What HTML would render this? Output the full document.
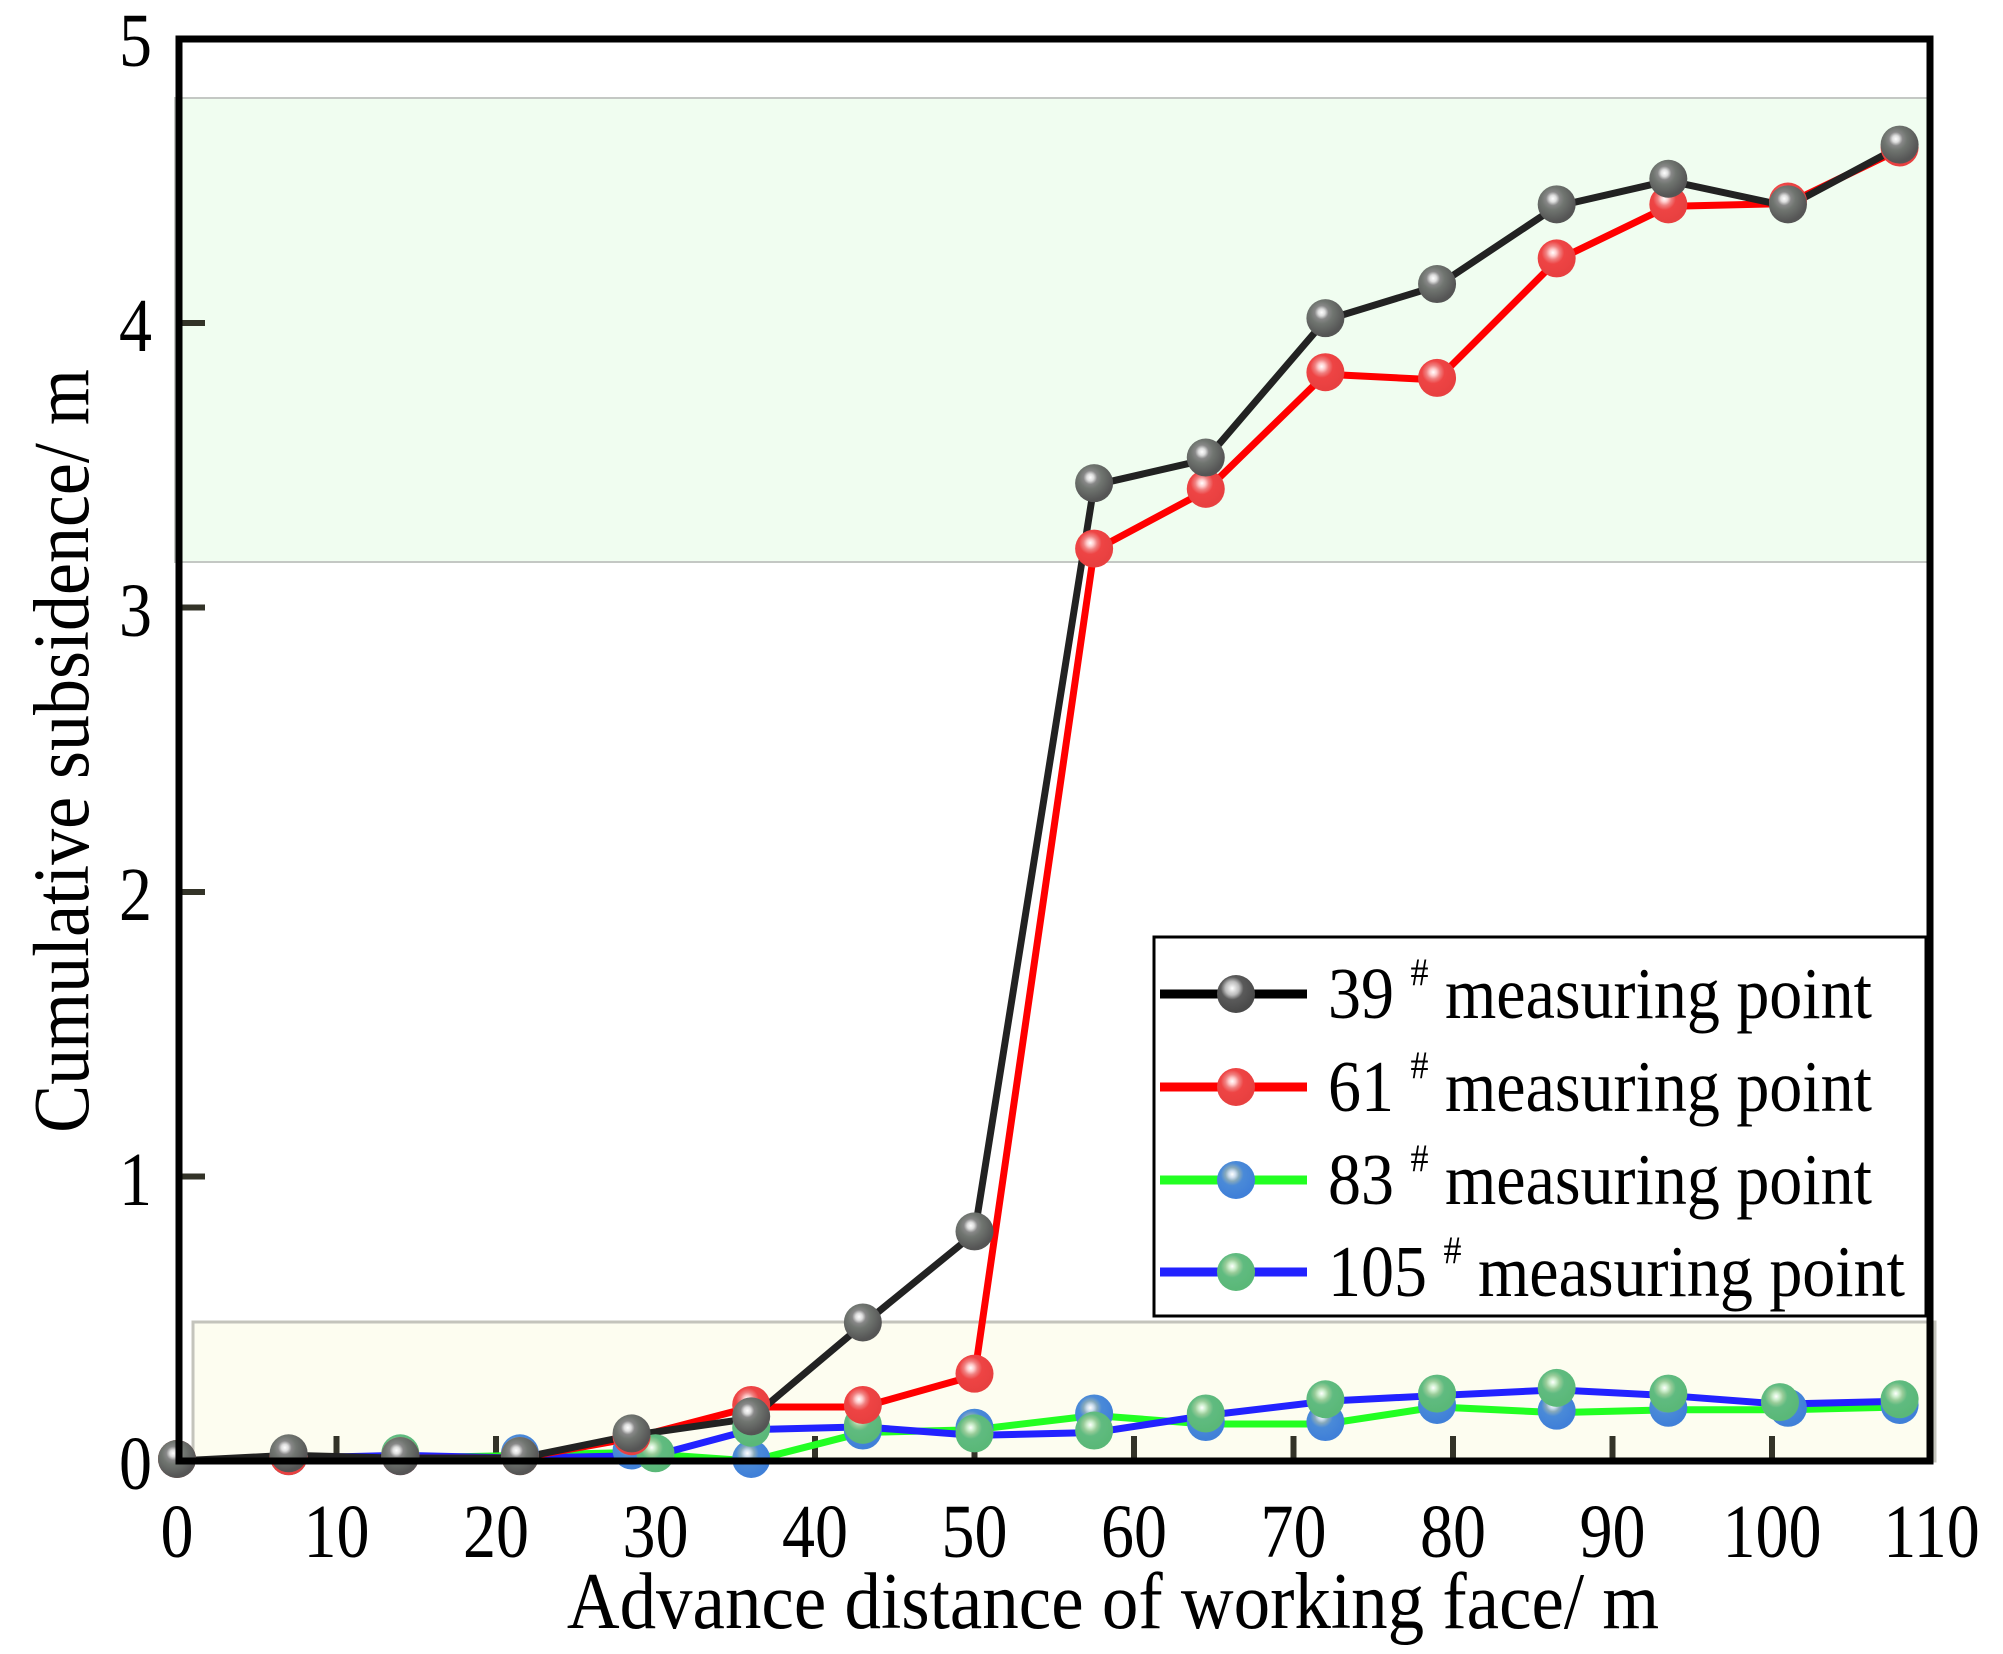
<!DOCTYPE html>
<html><head><meta charset="utf-8"><style>html,body{margin:0;padding:0;background:#fff}svg{display:block}</style></head>
<body>
<svg id="s" width="2003" height="1654" viewBox="0 0 2003 1654" xmlns="http://www.w3.org/2000/svg" font-family="Liberation Serif, serif">
<defs>
<radialGradient id="gk" cx="0.4" cy="0.35" r="0.6"><stop offset="0" stop-color="#fff"/><stop offset="0.15" stop-color="#ddd"/><stop offset="0.3" stop-color="#888"/><stop offset="0.5" stop-color="#707570"/><stop offset="1" stop-color="#555"/></radialGradient>
<radialGradient id="gb" cx="0.4" cy="0.35" r="0.6"><stop offset="0" stop-color="#fff"/><stop offset="0.15" stop-color="#ddd"/><stop offset="0.3" stop-color="#bbb"/><stop offset="0.5" stop-color="#5a5a5a"/><stop offset="1" stop-color="#4a4a4a"/></radialGradient>
<radialGradient id="gr" cx="0.4" cy="0.35" r="0.6"><stop offset="0" stop-color="#fff"/><stop offset="0.15" stop-color="#fcc"/><stop offset="0.3" stop-color="#f08080"/><stop offset="0.5" stop-color="#ee4444"/><stop offset="1" stop-color="#e84040"/></radialGradient>
<radialGradient id="gbl" cx="0.4" cy="0.35" r="0.6"><stop offset="0" stop-color="#fff"/><stop offset="0.15" stop-color="#cde"/><stop offset="0.3" stop-color="#8ab"/><stop offset="0.5" stop-color="#4a8ad8"/><stop offset="1" stop-color="#4080d8"/></radialGradient>
<radialGradient id="gg" cx="0.4" cy="0.35" r="0.6"><stop offset="0" stop-color="#fff"/><stop offset="0.15" stop-color="#cec"/><stop offset="0.3" stop-color="#9c9"/><stop offset="0.5" stop-color="#60bb80"/><stop offset="1" stop-color="#5ab878"/></radialGradient>
</defs>
<rect x="175" y="98" width="1755" height="464" fill="#f0fdf0" stroke="#c4c8c4" stroke-width="2"/>
<rect x="193" y="1322" width="1742" height="139" fill="#fdfdf0" stroke="#c4c4bc" stroke-width="3"/>
<g id="ticks" stroke="#333328" stroke-width="6"></g>
<g id="data"></g>
<rect x="179" y="39" width="1751" height="1422" fill="none" stroke="#000" stroke-width="7"/>
<g font-size="66" text-anchor="end">
<text transform="translate(152,1489) scale(1,1.15)">0</text>
<text transform="translate(152,1205) scale(1,1.15)">1</text>
<text transform="translate(152,920) scale(1,1.15)">2</text>
<text transform="translate(152,636) scale(1,1.15)">3</text>
<text transform="translate(152,351) scale(1,1.15)">4</text>
<text transform="translate(152,66) scale(1,1.15)">5</text>
</g>
<g id="xl" font-size="66" text-anchor="middle"></g>
<text transform="translate(1113,1628) scale(1,1.1)" font-size="73" text-anchor="middle">Advance distance of working face/ m</text>
<text transform="translate(88,751) rotate(-90) scale(1,1.1)" font-size="72" text-anchor="middle">Cumulative subsidence/ m</text>
<rect x="1154" y="937" width="772" height="379" fill="#fff" stroke="#000" stroke-width="3"/>
<g font-size="66">
<line x1="1160" y1="994" x2="1307" y2="994" stroke="#000" stroke-width="9"/><circle cx="1236" cy="994" r="19" fill="url(#gb)"/>
<text transform="translate(1328,1018) scale(1,1.1)">39 <tspan font-size="36" dy="-30">#</tspan><tspan dy="30"> measuring point</tspan></text>
<line x1="1160" y1="1087" x2="1307" y2="1087" stroke="#f00" stroke-width="9"/><circle cx="1236" cy="1087" r="19" fill="url(#gr)"/>
<text transform="translate(1328,1111) scale(1,1.1)">61 <tspan font-size="36" dy="-30">#</tspan><tspan dy="30"> measuring point</tspan></text>
<line x1="1160" y1="1180" x2="1307" y2="1180" stroke="#2f2" stroke-width="9"/><circle cx="1236" cy="1180" r="19" fill="url(#gbl)"/>
<text transform="translate(1328,1204) scale(1,1.1)">83 <tspan font-size="36" dy="-30">#</tspan><tspan dy="30"> measuring point</tspan></text>
<line x1="1160" y1="1272" x2="1307" y2="1272" stroke="#22f" stroke-width="9"/><circle cx="1236" cy="1272" r="19" fill="url(#gg)"/>
<text transform="translate(1328,1296) scale(1,1.1)">105 <tspan font-size="36" dy="-30">#</tspan><tspan dy="30"> measuring point</tspan></text>
</g>
<script>
var X=function(v){return 177+v*15.95},Y=function(v){return 1461-284.5*v};
var ns="http://www.w3.org/2000/svg";
function el(p,t,a){var e=document.createElementNS(ns,t);for(var k in a)e.setAttribute(k,a[k]);p.appendChild(e);return e;}
var tk=document.getElementById('ticks'),xl=document.getElementById('xl'),dg=document.getElementById('data');
for(var i=0;i<=11;i++){var x=X(i*10);if(i>0&&i<11)el(tk,'line',{x1:x,y1:1461,x2:x,y2:1436});var t=el(xl,'text',{transform:'translate('+x+',1557) scale(1,1.15)'});t.textContent=i*10;}
for(var j=1;j<5;j++)el(tk,'line',{x1:179,y1:Y(j),x2:205,y2:Y(j)});
var xs=[0,7,14,21.5,28.5,36,43,50,57.5,64.5,72,79,86.5,93.5,101,108];
var S=[
{c:'#2f2',g:'gbl',d:[0,0.01,0.01,0.02,0.03,0.0,0.1,0.11,0.16,0.13,0.13,0.19,0.17,0.18,0.18,0.19]},
{c:'#22f',g:'gg',x:[0,7,14,21.5,30,36,43,50,57.5,64.5,72,79,86.5,93.5,100.5,108],d:[0,0.01,0.02,0.01,0.02,0.11,0.12,0.09,0.1,0.16,0.21,0.23,0.25,0.23,0.2,0.21]},
{c:'#f00',g:'gr',d:[0,0.01,0.01,0.01,0.08,0.19,0.19,0.3,3.2,3.41,3.82,3.8,4.22,4.41,4.42,4.61]},
{c:'#222',g:'gk',d:[0,0.02,0.01,0.01,0.09,0.15,0.48,0.8,3.43,3.52,4.01,4.13,4.41,4.5,4.41,4.62]}];
S.forEach(function(s){var xx=s.x||xs;var p=xx.map(function(v,i){return X(v)+','+Y(s.d[i])}).join(' ');
el(dg,'polyline',{points:p,fill:'none',stroke:s.c,'stroke-width':7});});
S.forEach(function(s){var xx=s.x||xs;xx.forEach(function(v,i){el(dg,'circle',{cx:X(v),cy:Y(s.d[i])-2,r:19,fill:'url(#'+s.g+')'});});});
</script>
</svg>
</body></html>
